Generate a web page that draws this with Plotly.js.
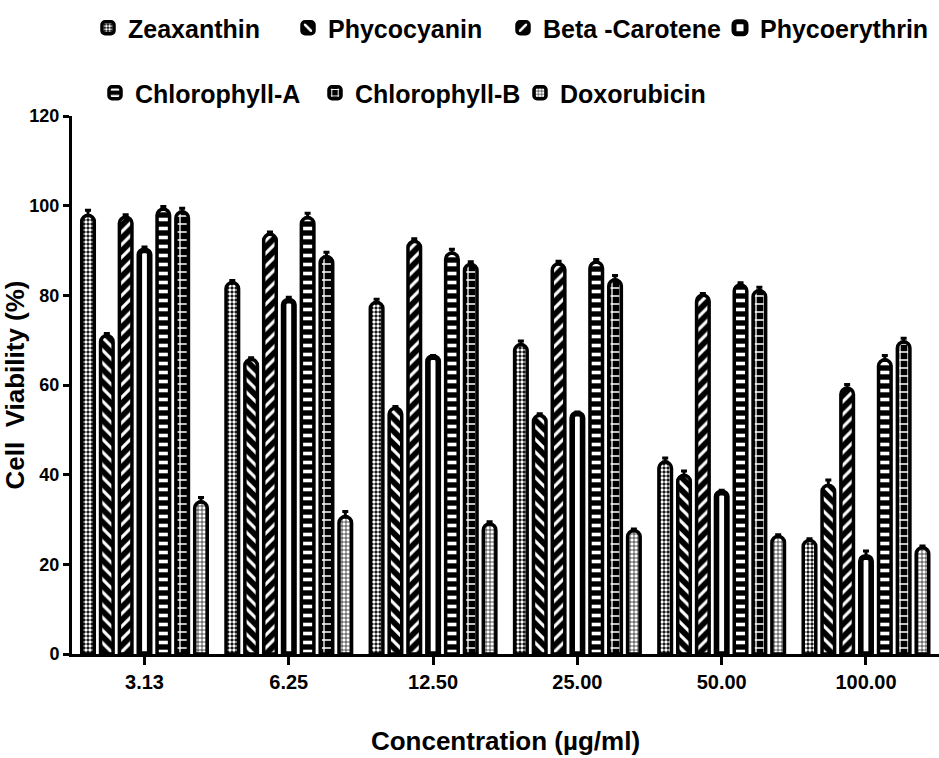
<!DOCTYPE html>
<html>
<head>
<meta charset="utf-8">
<script src="https://cdn.plot.ly/plotly-3.0.1.min.js"></script>
<style>html,body{margin:0;padding:0;background:#fff;}#chart{width:939px;height:758px;}</style>
</head>
<body>
<div id="chart"></div>
<script>
// ---- data ----
var concentrations = ["3.13", "6.25", "12.50", "25.00", "50.00", "100.00"];
var seriesNames = ["Zeaxanthin", "Phycocyanin", "Beta -Carotene", "Phycoerythrin", "Chlorophyll-A", "Chlorophyll-B", "Doxorubicin"];
var zeaxanthin    = [97.8, 82.8, 78.4, 69.0, 42.8, 25.3];
var phycocyanin   = [71.0, 65.7, 54.8, 53.2, 39.8, 37.6];
var betaCarotene  = [97.4, 93.6, 92.0, 87.0, 80.0, 59.3];
var phycoerythrin = [90.0, 78.8, 66.2, 53.6, 36.0, 21.6];
var chlorophyllA  = [99.2, 97.3, 89.4, 87.4, 82.3, 65.6];
var chlorophyllB  = [98.6, 88.6, 86.9, 83.4, 81.0, 69.6];
var doxorubicin   = [33.9, 30.6, 29.0, 27.5, 26.2, 23.7];
var errZeaxanthin    = [1.2, 0.5, 0.7, 0.8, 0.9, 0.4];
var errPhycocyanin   = [0.5, 0.4, 0.4, 0.4, 1.0, 1.2];
var errBetaCarotene  = [0.6, 0.5, 0.6, 0.6, 0.4, 0.8];
var errPhycoerythrin = [0.8, 0.8, 0.4, 0.4, 0.5, 1.4];
var errChlorophyllA  = [0.6, 1.0, 0.9, 0.6, 0.5, 1.0];
var errChlorophyllB  = [0.8, 1.0, 0.6, 1.0, 0.8, 0.8];
var errDoxorubicin   = [1.0, 1.2, 0.5, 0.4, 0.4, 0.4];
var yTicks = [0, 20, 40, 60, 80, 100, 120];

var values = [zeaxanthin, phycocyanin, betaCarotene, phycoerythrin, chlorophyllA, chlorophyllB, doxorubicin];
var errors = [errZeaxanthin, errPhycocyanin, errBetaCarotene, errPhycoerythrin, errChlorophyllA, errChlorophyllB, errDoxorubicin];

// ---- styles ----
var FONT = '"Liberation Sans", Arial, Helvetica, sans-serif';
var patterns = [
  {shape: '.', fgcolor: 'white', bgcolor: 'black', size: 4, solidity: 0.6, fillmode: 'replace'},
  {shape: '\\', fgcolor: 'white', bgcolor: 'black', size: 9, solidity: 0.35, fillmode: 'replace'},
  {shape: '/', fgcolor: 'white', bgcolor: 'black', size: 9, solidity: 0.35, fillmode: 'replace'},
  null,
  {shape: '-', fgcolor: 'white', bgcolor: 'black', size: 9, solidity: 0.4, fillmode: 'replace'},
  {shape: '+', fgcolor: 'white', bgcolor: 'black', size: 8, solidity: 0.3, fillmode: 'replace'},
  {shape: '+', fgcolor: 'black', bgcolor: 'white', size: 4, solidity: 0.3, fillmode: 'replace'}
];
var legendRow = ['legend', 'legend', 'legend', 'legend', 'legend2', 'legend2', 'legend2'];
var legendWidths = [155, 170, 172, undefined, 175, 160, undefined];
var pitch = 0.1305;

var traces = seriesNames.map(function (name, k) {
  var special = (k === 3);
  var w = special ? 0.072 : 0.087;
  var center = (k - 3) * pitch;
  var marker = {
    color: special ? 'white' : 'black',
    line: {color: 'black', width: special ? 5.6 : 3.5},
    cornerradius: special ? 4 : 6
  };
  if (patterns[k]) marker.pattern = patterns[k];
  var tr = {
    type: 'bar',
    name: name,
    x: concentrations,
    y: values[k],
    width: w,
    offset: center - w / 2,
    marker: marker,
    error_y: {type: 'data', array: errors[k], arrayminus: errors[k].map(function(){return 0;}), symmetric: false,
              color: 'black', thickness: 3, width: 3},
    legend: legendRow[k],
    hoverinfo: 'x+y+name'
  };
  if (legendWidths[k] !== undefined) tr.legendwidth = legendWidths[k];
  return tr;
});

var legendFont = {family: FONT, size: 25, color: 'black', weight: 700};
var layout = {
  width: 939, height: 758,
  margin: {l: 72, r: 0, t: 112, b: 104},
  paper_bgcolor: 'white', plot_bgcolor: 'white',
  barmode: 'overlay',
  font: {family: FONT, color: 'black', weight: 700},
  xaxis: {
    type: 'category',
    range: [-0.5024, 5.506],
    showline: true, linecolor: 'black', linewidth: 3,
    ticks: 'outside', ticklen: 8, tickwidth: 3, tickcolor: 'black',
    showgrid: false, zeroline: false,
    tickfont: {family: FONT, size: 20, color: 'black', weight: 700},
    title: {text: 'Concentration (µg/ml)', font: {family: FONT, size: 26, color: 'black', weight: 700}, standoff: 40}
  },
  yaxis: {
    range: [0, 120],
    tickvals: yTicks,
    showline: true, linecolor: 'black', linewidth: 3,
    ticks: 'outside', ticklen: 6, tickwidth: 3, tickcolor: 'black',
    showgrid: false, zeroline: false,
    tickfont: {family: FONT, size: 18, color: 'black', weight: 700},
    title: {text: 'Cell\u00a0 Viability (%)', font: {family: FONT, size: 26, color: 'black', weight: 700}, standoff: 0}
  },
  legend: {
    orientation: 'h', xref: 'container', yref: 'container',
    x: 88 / 939, xanchor: 'left', y: 1 - 28 / 758, yanchor: 'middle',
    font: legendFont, bgcolor: 'rgba(0,0,0,0)', borderwidth: 0, traceorder: 'normal'
  },
  legend2: {
    orientation: 'h', xref: 'container', yref: 'container',
    x: 95 / 939, xanchor: 'left', y: 1 - 93 / 758, yanchor: 'middle',
    font: legendFont, bgcolor: 'rgba(0,0,0,0)', borderwidth: 0, traceorder: 'normal'
  },
  showlegend: true
};

Plotly.newPlot('chart', traces, layout, {displayModeBar: false});
</script>
</body>
</html>
